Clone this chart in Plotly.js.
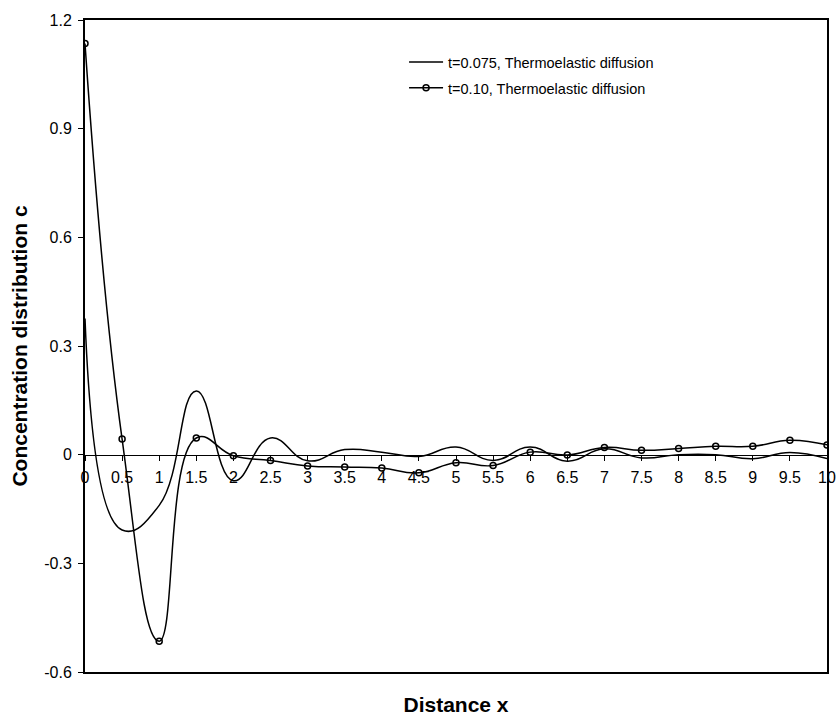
<!DOCTYPE html>
<html>
<head>
<meta charset="utf-8">
<script src="https://cdn.plot.ly/plotly-3.0.1.min.js"></script>
<style>html,body{margin:0;padding:0;background:#fff;}#chart{width:838px;height:717px;}</style>
</head>
<body>
<div id="chart"></div>
<script>
// Distance x (sample positions)
const distanceX = [0, 0.5, 1, 1.5, 2, 2.5, 3, 3.5, 4, 4.5, 5, 5.5, 6, 6.5, 7, 7.5, 8, 8.5, 9, 9.5, 10];
// t=0.075, Thermoelastic diffusion
const concT075 = [0.376, -0.208, -0.14, 0.176, -0.072, 0.046, -0.017, 0.014, 0.007, -0.005, 0.021, -0.016, 0.021, -0.018, 0.016, -0.009, 0.0, 0.0, -0.011, 0.006, -0.011];
// t=0.10, Thermoelastic diffusion
const concT010 = [1.135, 0.043, -0.515, 0.046, -0.003, -0.016, -0.031, -0.034, -0.037, -0.050, -0.022, -0.030, 0.007, -0.001, 0.020, 0.012, 0.017, 0.023, 0.023, 0.040, 0.027];

const seriesNames = ["t=0.075, Thermoelastic diffusion", "t=0.10, Thermoelastic diffusion"];
const xTickVals = [0, 0.5, 1, 1.5, 2, 2.5, 3, 3.5, 4, 4.5, 5, 5.5, 6, 6.5, 7, 7.5, 8, 8.5, 9, 9.5, 10];
const xTickText = ["0", "0.5", "1", "1.5", "2", "2.5", "3", "3.5", "4", "4.5", "5", "5.5", "6", "6.5", "7", "7.5", "8", "8.5", "9", "9.5", "10"];
const yTickVals = [-0.6, -0.3, 0, 0.3, 0.6, 0.9, 1.2];
const yTickText = ["-0.6", "-0.3", "0", "0.3", "0.6", "0.9", "1.2"];
const xRange = [0, 10];
const yRange = [-0.6, 1.2];

const FONT = 'Arial, "Liberation Sans", sans-serif';
const zeroPos = (0 - yRange[0]) / (yRange[1] - yRange[0]);

const traces = [
  {
    x: distanceX, y: concT075, name: seriesNames[0], type: 'scatter', mode: 'lines',
    line: {color: '#000', width: 1.5, shape: 'spline', smoothing: 1.3},
    legendgroup: 'a', xaxis: 'x', yaxis: 'y'
  },
  {
    x: distanceX, y: concT010, name: seriesNames[1], type: 'scatter', mode: 'lines+markers',
    line: {color: '#000', width: 1.5, shape: 'spline', smoothing: 1.3},
    marker: {symbol: 'circle-open', size: 6, color: '#000', line: {color: '#000', width: 1.5}},
    legendgroup: 'b', xaxis: 'x', yaxis: 'y'
  },
  {
    // invisible carrier so the frame axis (x2) is drawn
    x: distanceX, y: concT075, type: 'scatter', mode: 'lines',
    line: {width: 0, color: 'rgba(0,0,0,0)'}, opacity: 0,
    showlegend: false, hoverinfo: 'skip', xaxis: 'x2', yaxis: 'y'
  }
];

const layout = {
  width: 838, height: 717,
  margin: {l: 85, r: 11, t: 20, b: 45},
  paper_bgcolor: '#fff', plot_bgcolor: '#fff',
  font: {family: FONT, color: '#000', size: 16},
  showlegend: true,
  legend: {
    x: 0.43, y: 0.96, xanchor: 'left', yanchor: 'top',
    bgcolor: 'rgba(0,0,0,0)', font: {size: 14.5, family: FONT},
    traceorder: 'grouped', tracegroupgap: 4, itemwidth: 34
  },
  xaxis: {
    range: xRange, anchor: 'free', position: zeroPos,
    tickmode: 'array', tickvals: xTickVals, ticktext: xTickText,
    ticks: 'outside', ticklen: 5, tickwidth: 1, tickcolor: '#000',
    showline: true, linewidth: 1.5, linecolor: '#000',
    showgrid: false, zeroline: false, tickfont: {size: 16}, automargin: false,
    ticklabelstandoff: 3
  },
  xaxis2: {
    range: xRange, overlaying: 'x', anchor: 'y', side: 'bottom',
    showline: true, mirror: true, linewidth: 2, linecolor: '#000',
    showticklabels: false, ticks: '', showgrid: false, zeroline: false,
    title: {text: '<b>Distance x</b>', font: {size: 21}, standoff: 24},
    automargin: false
  },
  yaxis: {
    range: yRange, tickmode: 'array', tickvals: yTickVals, ticktext: yTickText,
    ticks: 'outside', ticklen: 5, tickwidth: 1, tickcolor: '#000',
    showline: true, mirror: true, linewidth: 2, linecolor: '#000',
    showgrid: false, zeroline: false, tickfont: {size: 16},
    ticklabelstandoff: 3,
    title: {text: '<b>Concentration distribution c</b>', font: {size: 21}, standoff: 11},
    automargin: false
  }
};

Plotly.newPlot('chart', traces, layout, {displayModeBar: false, staticPlot: true});
</script>
</body>
</html>
